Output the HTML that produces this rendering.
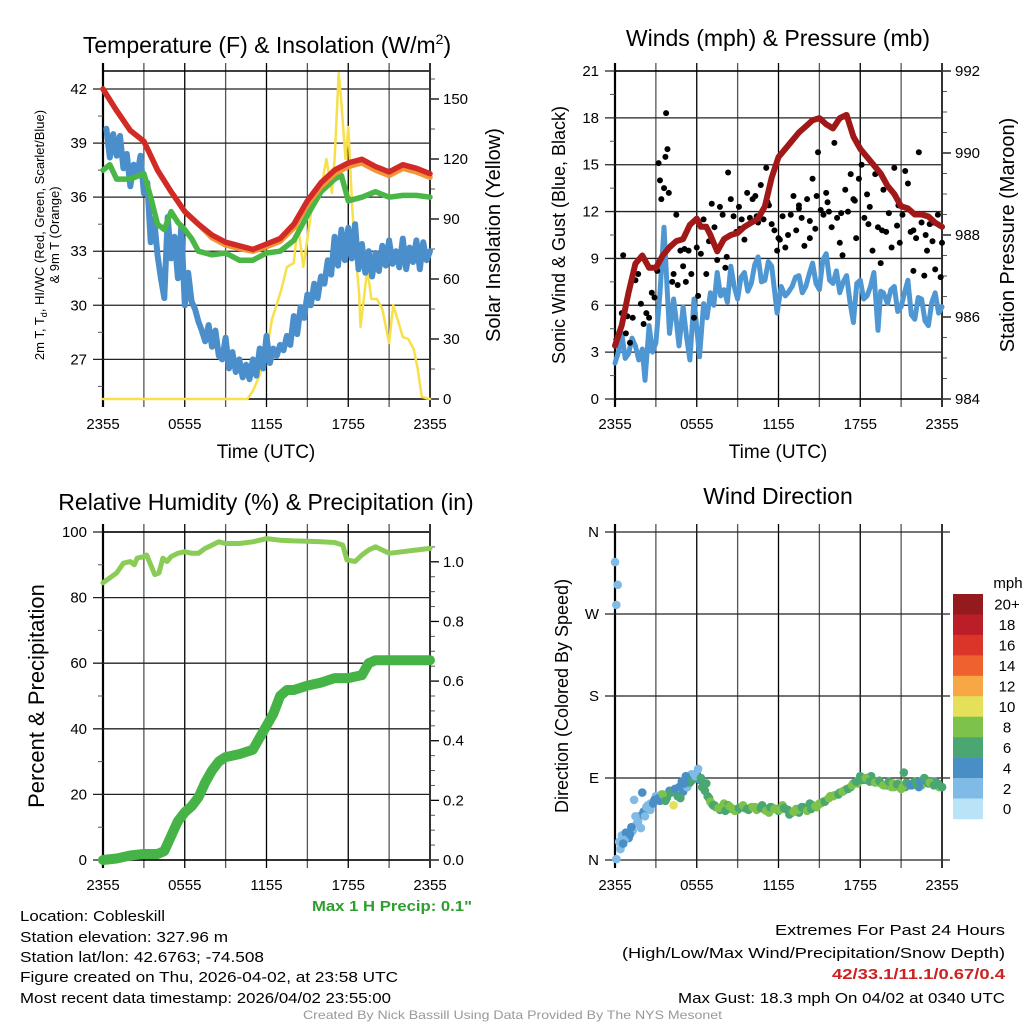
<!DOCTYPE html>
<html><head><meta charset="utf-8"><style>
html,body{margin:0;padding:0;background:#fff;}
svg{display:block;font-family:"Liberation Sans",sans-serif;}
</style></head><body>
<svg id="fig" width="1024" height="1024" viewBox="0 0 1024 1024" xmlns="http://www.w3.org/2000/svg">
<rect width="1024" height="1024" fill="#fff"/>
<g id="g"></g>
<text x="267" y="53" font-size="23" text-anchor="middle">Temperature (F) &amp; Insolation (W/m<tspan font-size="14" dy="-9">2</tspan><tspan dy="9">)</tspan></text>
<text x="778" y="46" font-size="23" text-anchor="middle">Winds (mph) &amp; Pressure (mb)</text>
<text x="266" y="510" font-size="23" text-anchor="middle">Relative Humidity (%) &amp; Precipitation (in)</text>
<text x="778" y="504" font-size="23" text-anchor="middle">Wind Direction</text>

<text x="266" y="458" font-size="19" text-anchor="middle">Time (UTC)</text>
<text x="778" y="458" font-size="19" text-anchor="middle">Time (UTC)</text>
<text transform="translate(44,235) rotate(-90)" font-size="13" text-anchor="middle">2m T, T<tspan font-size="9" dy="3">d</tspan><tspan dy="-3">, HI/WC (Red, Green, Scarlet/Blue)</tspan></text>
<text transform="translate(59,235) rotate(-90)" font-size="13" text-anchor="middle">&amp; 9m T (Orange)</text>
<text transform="translate(500,235) rotate(-90)" font-size="20" text-anchor="middle">Solar Insolation (Yellow)</text>
<text transform="translate(565,235) rotate(-90)" font-size="18" text-anchor="middle">Sonic Wind &amp; Gust (Blue, Black)</text>
<text transform="translate(1014,235) rotate(-90)" font-size="20" text-anchor="middle">Station Pressure (Maroon)</text>
<text transform="translate(44,696) rotate(-90)" font-size="22" text-anchor="middle">Percent &amp; Precipitation</text>
<text transform="translate(568,696) rotate(-90)" font-size="18" text-anchor="middle">Direction (Colored By Speed)</text>

<text x="312" y="911" font-size="15" font-weight="bold" fill="#2e9e2e" textLength="160" lengthAdjust="spacingAndGlyphs">Max 1 H Precip: 0.1"</text>
<g font-size="15">
<text x="20" y="921" textLength="145" lengthAdjust="spacingAndGlyphs">Location: Cobleskill</text>
<text x="20" y="942" textLength="208" lengthAdjust="spacingAndGlyphs">Station elevation: 327.96 m</text>
<text x="20" y="962" textLength="244" lengthAdjust="spacingAndGlyphs">Station lat/lon: 42.6763; -74.508</text>
<text x="20" y="982" textLength="378" lengthAdjust="spacingAndGlyphs">Figure created on Thu, 2026-04-02, at 23:58 UTC</text>
<text x="20" y="1003" textLength="371" lengthAdjust="spacingAndGlyphs">Most recent data timestamp: 2026/04/02 23:55:00</text>
</g>
<g font-size="15">
<text x="775" y="935" textLength="230" lengthAdjust="spacingAndGlyphs">Extremes For Past 24 Hours</text>
<text x="622" y="958" textLength="383" lengthAdjust="spacingAndGlyphs">(High/Low/Max Wind/Precipitation/Snow Depth)</text>
<text x="832" y="979" textLength="173" lengthAdjust="spacingAndGlyphs" font-weight="bold" fill="#cc2222">42/33.1/11.1/0.67/0.4</text>
<text x="678" y="1003" textLength="327" lengthAdjust="spacingAndGlyphs">Max Gust: 18.3 mph On 04/02 at 0340 UTC</text>
</g>
<text x="303" y="1019" font-size="12" fill="#999" textLength="419" lengthAdjust="spacingAndGlyphs">Created By Nick Bassill Using Data Provided By The NYS Mesonet</text>
</svg>
<script>
// ---- data ----
const xTickLabels = ['2355','0555','1155','1755','2355'];
const tempTicks = [27,30,33,36,39,42];
const insolTicks = [0,30,60,90,120,150];
const windTicks = [0,3,6,9,12,15,18,21];
const presTicks = [984,986,988,990,992];
const rhTicks = [0,20,40,60,80,100];
const precipTicks = [0,0.2,0.4,0.6,0.8,1.0];
const dirTicks = ['N','E','S','W','N'];
const speedBinLabels = ['0','2','4','6','8','10','12','14','16','18','20+'];
const speedColors = ['#b9e4f8','#7fbbe6','#4a8ec6','#4aa772','#7dc24a','#e5e05a','#f7a744','#ef612f','#db3428','#bb1e26','#951a1d'];

const tempT = [0,1,2,3,4,5,6,7,8,9,10,11,12,13,14,15,16,17,18,19,20,21,22,23,24];
const temp2m = [42,40.8,39.7,39.1,37.5,36.3,35.2,34.5,33.9,33.5,33.3,33.1,33.4,33.7,34.5,35.8,36.8,37.5,37.9,38.1,37.7,37.4,37.8,37.6,37.3];
const temp9m = [42,40.8,39.7,39.1,37.5,36.3,35.2,34.5,33.75,33.35,33.15,33.0,33.25,33.55,34.3,35.6,36.6,37.3,37.7,37.9,37.5,37.2,37.6,37.4,37.1];
const dewT = [0,0.5,1,2,3,3.5,4,4.5,5,5.5,6,6.5,7,8,9,10,11,12,13,14,15,16,17,17.5,18,19,20,21,22,23,24];
const dewV = [37.5,37.8,37.0,37.0,37.3,36.0,34.5,34.2,35.2,34.6,34.2,33.7,33.0,32.8,32.9,32.5,32.5,32.9,33.0,33.6,35.0,36.3,37.0,37.2,35.8,36.0,36.3,36.0,36.1,36.1,36.0];
const wcT = [0.25,0.5,0.75,1,1.25,1.5,1.75,2,2.25,2.5,2.75,3,3.25,3.5,3.75,4,4.25,4.5,4.75,5,5.25,5.5,5.75,6,6.25,6.5,6.75,7,7.25,7.5,7.75,8,8.25,8.5,8.75,9,9.25,9.5,9.75,10,10.25,10.5,10.75,11,11.25,11.5,11.75,12,12.25,12.5,12.75,13,13.25,13.5,13.75,14,14.25,14.5,14.75,15,15.25,15.5,15.75,16,16.25,16.5,16.75,17,17.25,17.5,17.75,18,18.25,18.5,18.75,19,19.25,19.5,19.75,20,20.25,20.5,20.75,21,21.25,21.5,21.75,22,22.25,22.5,22.75,23,23.25,23.5,23.75,24];
const wcV = [39.8,38.2,39.5,38.3,39.4,37.6,38.4,36.6,37.8,37.2,38.3,36.2,36.8,33.5,34.8,32.8,31.5,30.4,34.9,32.6,33.8,31.5,34.4,30.0,31.8,30.2,29.8,29.1,28.6,28.0,28.9,27.7,28.6,27.2,27.0,28.2,26.5,27.4,26.3,27.0,26.0,26.7,25.9,27.0,26.1,27.6,26.5,28.3,26.8,27.6,27.2,27.8,27.5,28.3,27.8,29.4,28.4,29.9,29.3,30.6,30.0,31.2,30.4,31.6,31.2,32.5,31.7,33.8,32.2,34.2,32.5,34.3,32.6,34.5,32.0,33.4,31.8,33.0,31.6,32.9,31.9,33.3,32.2,33.6,32.3,33.0,32.1,33.7,32.0,33.2,32.4,33.6,32.0,33.5,32.5,33.0];
const solT = [0,10.6,11,11.5,12,12.4,12.7,13.1,13.5,14,14.3,14.7,15,15.3,15.9,16.4,16.8,17,17.3,17.5,17.8,18,18.3,18.5,18.8,18.9,19.4,19.7,20.1,20.5,21,21.3,21.7,22,22.4,22.8,23.1,23.4,24];
const solV = [0,0,4,12,23,40,46,55,66,68,88,66,80,95,101,120,103,120,163,148,120,136,95,75,53,36,65,50,50,45,28,47,38,31,30,25,15,1,0];

const presT = [0,0.5,1,1.5,2,2.5,3,3.5,4,4.5,5,5.5,6,6.3,6.7,7,7.5,8,8.5,9,9.5,10,10.5,11,11.5,12,12.5,13,13.5,14,14.5,15,15.5,16,16.5,17,17.5,18,18.5,19,19.5,20,20.5,21,21.5,22,22.5,23,23.5,24];
const presV = [985.3,985.8,986.6,987.3,987.5,987.2,987.2,987.5,987.7,987.85,987.9,988.25,988.4,988.2,988.2,988.0,987.6,987.9,988.0,988.05,988.2,988.3,988.4,988.7,989.4,989.9,990.1,990.3,990.5,990.65,990.8,990.85,990.7,990.6,990.85,990.93,990.4,990.1,989.9,989.7,989.5,989.2,989.0,988.7,988.65,988.5,988.5,988.45,988.3,988.2];
const windT = [0,0.25,0.5,0.75,1,1.25,1.5,1.75,2,2.2,2.5,2.75,3,3.3,3.6,3.8,4,4.3,4.5,4.7,5,5.25,5.5,5.8,6.2,6.5,6.75,7,7.25,7.5,7.75,8,8.25,8.5,8.75,9,9.25,9.5,9.75,10,10.25,10.5,10.75,11,11.25,11.5,11.9,12.2,12.5,12.7,13,13.25,13.5,13.75,14,14.25,14.5,14.75,15,15.25,15.5,15.75,16,16.25,16.5,16.75,17,17.25,17.5,17.75,18,18.25,18.5,18.75,19,19.3,19.5,19.7,20,20.25,20.5,20.75,21,21.25,21.5,21.75,22,22.25,22.5,22.75,23,23.25,23.5,23.75,24];
const windV = [2.3,3.0,4.2,2.6,2.9,3.9,3.4,2.5,3.2,1.2,4.7,3.0,3.6,6.8,11.0,7.5,4.2,6.4,5.0,3.4,5.9,4.0,2.5,6.4,2.7,6.1,5.2,6.8,6.0,8.1,6.6,7.0,6.2,8.5,7.2,6.4,7.8,8.1,6.9,7.4,8.6,9.1,7.5,7.6,8.8,8.5,5.5,7.2,6.6,6.8,7.2,7.8,7.9,6.8,7.2,8.0,8.7,7.4,7.0,8.9,9.3,7.6,7.4,8.2,6.8,7.5,7.9,6.2,4.9,7.4,7.6,6.4,6.6,7.2,8.1,4.4,6.9,6.8,6.1,7.0,7.2,5.6,5.9,6.8,7.6,5.4,5.1,6.5,6.4,5.0,4.7,6.2,6.8,5.5,5.9];
const gustT = [0.1,0.3,0.5,0.6,0.8,0.9,1.1,1.3,1.5,1.7,1.9,2.1,2.3,2.5,2.7,2.9,3.1,3.2,3.3,3.4,3.6,3.7,3.75,3.85,3.95,4.1,4.3,4.5,4.6,4.8,5.0,5.2,5.4,5.6,5.8,6.0,6.1,6.3,6.5,6.7,6.9,7.1,7.3,7.5,7.7,7.9,8.1,8.3,8.5,8.7,8.9,9.1,9.3,9.5,9.7,9.9,10.1,10.3,10.5,10.7,10.9,11.1,11.3,11.5,11.7,11.9,12.1,12.3,12.5,12.7,12.9,13.1,13.3,13.5,13.7,13.9,14.1,14.3,14.5,14.7,14.8,14.9,15.1,15.3,15.5,15.7,15.9,16.1,16.3,16.5,16.7,16.9,17.1,17.3,17.5,17.7,17.9,18.1,18.3,18.5,18.7,18.9,19.1,19.3,19.5,19.7,19.9,20.1,20.3,20.5,20.7,20.9,21.1,21.3,21.5,21.7,21.9,22.1,22.3,22.5,22.7,22.9,23.1,23.3,23.5,23.7,23.9,24.0,4.2,5.1,7.0,8.2,9.2,10.4,11.2,12.0,13.5,14.3,15.6,16.6,17.6,18.6,19.6,20.8,21.9,22.8,23.4];
const gustV = [3.8,4.2,5.5,9.2,4.2,5.3,3.6,5.2,7.6,8.0,6.1,4.8,5.5,5.2,6.8,6.5,8.2,15.1,14.0,12.8,13.5,15.5,18.3,16.0,13.2,9.8,8.0,11.8,7.3,9.5,8.5,7.5,9.5,8.0,5.2,9.7,6.6,9.3,11.5,8.0,10.1,12.5,11.0,8.9,12.3,11.8,8.4,14.5,12.8,11.7,10.7,12.3,11.5,10.2,13.2,11.6,12.8,13.0,11.3,13.7,11.5,14.8,12.4,11.2,10.8,9.5,10.2,11.7,9.7,10.5,11.8,13.0,10.8,12.4,11.6,9.8,12.8,10.3,14.1,10.9,13.0,15.8,12.1,11.8,13.2,12.0,11.0,16.4,11.6,10.0,9.2,13.4,12.0,14.4,12.8,10.3,14.1,15.0,11.6,13.1,12.3,9.5,14.4,11.0,8.7,13.4,10.7,11.9,9.7,14.8,11.1,10.0,11.8,14.6,13.8,10.7,8.2,10.3,15.8,11.3,7.9,9.5,11.2,10.1,8.3,11.8,7.8,10.0,7.5,9.6,10.5,9.1,10.9,11.7,12.6,10.3,12.2,11.4,12.6,11.9,12.7,11.2,10.8,12.4,10.8,10.5,11.3];

const rhT = [0,0.5,1,1.5,2,2.3,2.5,3,3.2,3.5,3.8,4.1,4.4,4.7,5,5.5,6,6.5,7,7.5,8,8.5,9,10,11,12,13,14,15,16,17,17.6,17.9,18.5,19,19.5,20,20.5,21,22,23,24];
const rhV = [84.5,86,87.5,90.5,91,90,92,92.5,93,90,87,87.5,92,91,92.5,93.5,94,93.5,93.5,95,96,97,96.5,96.5,97,98,97.5,97.3,97.2,97,96.8,96,91.5,91,93,94.5,95.5,94.5,93.5,94,94.5,95];
const pcpT = [0,1,2,3,4,4.5,5,5.5,6,6.5,7,7.5,8,8.5,9,10,11,11.5,12,12.5,13,13.5,14,15,16,17,18,19,19.5,20,24];
const pcpV = [0,0.005,0.015,0.02,0.02,0.03,0.08,0.13,0.16,0.18,0.21,0.26,0.30,0.33,0.345,0.355,0.37,0.41,0.45,0.49,0.55,0.57,0.57,0.585,0.595,0.61,0.61,0.62,0.66,0.67,0.67];

const dirT = [0.1,0.4,0.3,0.5,0.8,1.0,1.3,1.6,1.8,2.1,1.9,2.2,2.6,2.6,3.0,3.3,3.6,3.9,4.3,4.6,5.0,5.3,5.5,5.8,6.0,6.1,6.4,6.8,7.1,7.4,7.7,8.0,8.5,9.0,9.5,10.0,10.5,11.0,11.5,12.0,12.5,13.0,13.5,14.0,14.5,15.0,15.5,16.0,16.5,17.0,17.5,18.0,18.5,19.0,19.5,20.0,20.5,21.0,21.5,22.0,22.5,23.0,23.5,24.0,0.1,0.2,0.0,0.7,1.2,1.5,2.4,2.9,3.4,3.8,4.0,4.9,5.6,6.2,6.6,7.3,7.9,8.3,8.8,9.3,9.8,10.3,10.8,11.3,11.8,12.3,12.8,13.3,13.8,14.3,14.8,15.3,15.8,16.3,16.8,17.3,17.8,18.3,18.8,19.3,19.8,20.3,20.8,21.3,21.8,22.3,22.8,23.3,23.8,1.4,2.0,4.8,6.3,18.0,21.2,
  0.6,1.1,1.7,2.3,2.8,3.2,3.5,3.7,4.1,4.4,4.7,5.1,5.2,5.7,5.9,6.3,6.5,6.7,6.9,7.0,7.2,7.6,7.8,8.1,8.4,8.7,9.1,9.4,9.7,10.1,10.4,10.7,11.1,11.4,11.7,12.1,12.4,12.7,13.1,13.4,13.7,14.1,14.4,14.7,15.1,15.4,15.7,16.1,16.4,16.7,17.1,17.4,17.7,18.1,18.4,18.7,19.1,19.4,19.7,20.1,20.4,20.7,21.1,21.4,21.7,22.1,22.4,22.7,23.1,23.4,23.7,24.0];
const dirV = [1,12,20,27,30,24,32,40,48,53,35,48,55,62,70,65,70,72,60,70,75,80,85,90,95,100,80,70,62,58,55,62,56,55,57,58,57,55,58,54,56,52,52,57,60,62,66,70,74,78,84,88,90,86,84,82,80,78,84,86,82,84,86,80,280,302,327,22,36,48,60,66,72,68,76,86,94,88,76,60,57,60,54,58,55,58,60,52,56,60,50,56,58,62,58,64,70,72,76,80,84,88,92,86,82,80,84,80,82,80,88,86,80,66,74,68,90,92,96,
  18,28,42,58,62,68,72,65,74,78,80,84,92,88,92,90,82,84,68,64,60,57,58,54,59,56,57,60,56,58,55,57,54,58,56,55,57,55,53,55,58,54,56,59,62,64,68,71,72,75,78,82,86,88,90,86,85,87,82,86,84,83,80,85,82,84,86,90,85,82,84,80];
const dirS = [2,2,3,3,4,4,2,3,4,4,2,2,2,2,3,4,5,7,10,6,4,3,6,4,5,2,6,6,7,8,7,8,8,7,8,8,7,8,8,6,7,8,6,8,7,8,10,8,7,8,6,8,6,7,8,7,8,8,4,6,8,6,4,6,2,2,2,3,4,2,3,4,3,6,5,4,2,5,6,7,8,6,8,7,6,8,7,8,6,8,7,8,6,7,8,7,8,8,7,6,8,6,7,8,6,8,8,6,7,4,4,6,8,2,4,7,4,6,6,
  4,4,2,2,4,4,8,7,6,4,5,4,4,6,2,6,6,7,6,8,7,8,8,7,8,8,6,8,7,8,8,6,8,7,8,8,7,6,8,8,6,8,7,8,8,7,8,8,7,8,7,8,6,7,8,6,8,7,8,6,8,7,8,6,4,7,4,6,8,6,7,6];

// ---- helpers ----
const NS='http://www.w3.org/2000/svg';
const root=document.getElementById('g');
function mk(tag, attrs, name, parent){
  const el=document.createElementNS(NS,tag);
  for(const k in attrs) el.setAttribute(k,attrs[k]);
  
  
  (parent||root).appendChild(el);
  return el;
}
function lin(d0,d1,r0,r1){return v=>r0+(v-d0)/(d1-d0)*(r1-r0);}
function pathD(ts,vs,sx,sy){return ts.map((t,i)=>(i?'L':'M')+sx(t).toFixed(1)+' '+sy(vs[i]).toFixed(1)).join(' ');}

function frame(p, leftTicks, leftFmt, sy, rightTicks, rightFmt, sy2, rightMinor, leftMinor, box){
  const g=mk('g',{},p.name+'-axes');
  for(let h=0;h<=24;h+=3){
    const x=p.sx(h);
    mk('line',{x1:x,x2:x,y1:p.y0-8,y2:p.y1+8,stroke:(h%6===0?'#000':'#555'),'stroke-width':(h===0?2.2:1.3)},'x-gridline',g);
  }
  leftTicks.forEach(v=>{
    const y=sy(v);
    mk('line',{x1:p.x0-10,x2:(p.extend?p.x1+8:p.x1),y1:y,y2:y,stroke:'#222','stroke-width':1.3},'y-gridline',g);
    const t=mk('text',{x:p.x0-16,y:y+5,'font-size':15,'text-anchor':'end'},'y-tick-label',g);
    t.textContent=leftFmt(v);
  });
  (leftMinor||[]).forEach(v=>{const y=sy(v);mk('line',{x1:p.x0-5,x2:p.x0,y1:y,y2:y,stroke:'#555','stroke-width':1},'y-minor-tick',g);});
  if(sy2){
    rightTicks.forEach(v=>{
      const y=sy2(v);
      mk('line',{x1:p.x1,x2:p.x1+9,y1:y,y2:y,stroke:'#000','stroke-width':1.3},'right-tick',g);
      const t=mk('text',{x:p.x1+13,y:y+5,'font-size':15},'right-tick-label',g);
      t.textContent=rightFmt(v);
    });
    (rightMinor||[]).forEach(v=>{const y=sy2(v);mk('line',{x1:p.x1,x2:p.x1+5,y1:y,y2:y,stroke:'#555','stroke-width':1},'right-minor-tick',g);});
  }
  if(box){
    mk('line',{x1:p.x0,x2:p.x1,y1:p.y0,y2:p.y0,stroke:'#000','stroke-width':1.5},'top-border',g);
    mk('line',{x1:p.x0,x2:p.x1,y1:p.y1,y2:p.y1,stroke:'#000','stroke-width':1.5},'bottom-border',g);
  }
  mk('line',{x1:p.x1,x2:p.x1,y1:p.y0-8,y2:p.y1+8,stroke:'#333','stroke-width':2},'right-border',g);
  xTickLabels.forEach((s,i)=>{
    const t=mk('text',{x:p.sx(i*6),y:p.y1+30,'font-size':15,'text-anchor':'middle'},'x-tick-label',g);
    t.textContent=s;
  });
}
function line(ts,vs,sx,sy,color,w,name,op){
  mk('path',{d:pathD(ts,vs,sx,sy),fill:'none',stroke:color,'stroke-width':w,'stroke-linejoin':'round','stroke-linecap':'round','stroke-opacity':op||1},name);
}

// ---- panel 1: temperature ----
{
  const p={name:'temperature',x0:103,x1:430,y0:71,y1:399};
  p.sx=lin(0,24,p.x0,p.x1);
  const sy=lin(24.8,43.0,p.y1,p.y0), sy2=lin(0,164,p.y1,p.y0);
  const lm=[25.5,28.5,31.5,34.5,37.5,40.5];
  const rm=[15,45,75,105,135,160];
  frame(p,tempTicks,v=>String(v),sy,insolTicks,v=>String(v),sy2,rm,lm,true);
  line(solT,solV,p.sx,sy2,'#f7e04a',2.5,'insolation-line');
  line(wcT,wcV,p.sx,sy,'#4a8fcb',6,'wind-chill-line');
  line(dewT,dewV,p.sx,sy,'#4ab645',5.5,'dewpoint-line');
  line(tempT,temp9m,p.sx,sy,'#f39436',5.5,'temp-9m-line');
  line(tempT,temp2m,p.sx,sy,'#d22a26',5.5,'temp-2m-line');
}
// ---- panel 2: winds ----
{
  const p={name:'winds',x0:615,x1:942,y0:71,y1:399};
  p.sx=lin(0,24,p.x0,p.x1);
  const sy=lin(0,21,p.y1,p.y0), sy2=lin(984,992,p.y1,p.y0);
  const lm=[1.5,4.5,7.5,10.5,13.5,16.5,19.5];
  const rm=[984.5,985,985.5,986.5,987,987.5,988.5,989,989.5,990.5,991,991.5];
  frame(p,windTicks,v=>String(v),sy,presTicks,v=>String(v),sy2,rm,lm,true);
  line(windT,windV,p.sx,sy,'#4f97d3',5,'sonic-wind-line');
  gustT.forEach((t,i)=>{
    mk('circle',{cx:p.sx(t),cy:sy(gustV[i]),r:3,fill:'#000'},'gust-dot');
  });
  line(presT,presV,p.sx,sy2,'#a01818',6,'pressure-line');
}
// ---- panel 3: humidity ----
{
  const p={name:'humidity',x0:103,x1:430,y0:532,y1:860};
  p.sx=lin(0,24,p.x0,p.x1);
  const sy=lin(0,100,p.y1,p.y0), sy2=lin(0,1.1,p.y1,p.y0);
  const lm=[10,30,50,70,90];
  const rm=[0.05,0.1,0.15,0.25,0.3,0.35,0.45,0.5,0.55,0.65,0.7,0.75,0.85,0.9,0.95,1.05];
  frame(p,rhTicks,v=>String(v),sy,precipTicks,v=>v.toFixed(1),sy2,rm,lm,true);
  line(rhT,rhV,p.sx,sy,'#8acc55',5,'rh-line');
  line(pcpT,pcpV,p.sx,sy2,'#46b347',10,'precip-line');
}
// ---- panel 4: wind direction ----
{
  const p={name:'direction',x0:615,x1:942,y0:532,y1:860,extend:true};
  p.sx=lin(0,24,p.x0,p.x1);
  const sy=lin(0,360,p.y1,p.y0);
  frame(p,[0,90,180,270,360],v=>dirTicks[v/90],sy,null,null,null,null,null,false);
  dirT.forEach((t,i)=>{
    const bin=Math.min(10,Math.max(0,Math.floor(dirS[i]/2)));
    mk('circle',{cx:p.sx(t),cy:sy(dirV[i]),r:4.3,fill:speedColors[bin]},'direction-dot');
  });
  const cb=mk('g',{},'speed-colorbar');
  const top=594,bh=20.45;
  speedColors.slice().reverse().forEach((c,j)=>{
    mk('rect',{x:953,y:top+j*bh,width:30,height:bh+0.3,fill:c},'colorbar-box',cb);
    const t=mk('text',{x:1007,y:top+j*bh+bh/2+5.5,'font-size':15,'text-anchor':'middle'},'colorbar-label',cb);
    t.textContent=speedBinLabels[10-j];
  });
  const u=mk('text',{x:1008,y:588,'font-size':15,'text-anchor':'middle'},'colorbar-unit',cb);
  u.textContent='mph';
}
</script>
</body></html>
